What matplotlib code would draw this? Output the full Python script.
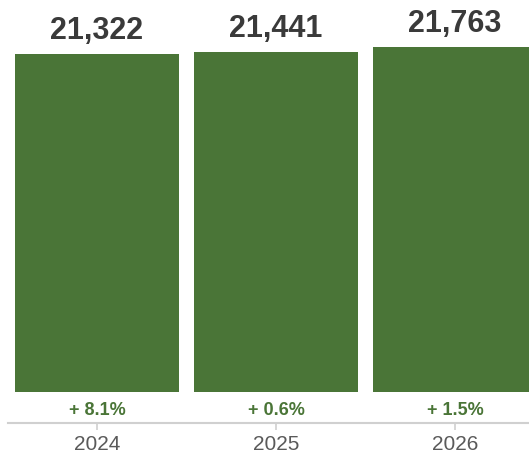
import matplotlib.pyplot as plt

plt.rc('font', family=['Liberation Sans', 'DejaVu Sans'])

years = ['2024', '2025', '2026']
totals = [21322, 21441, 21763]
growth = ['+ 8.1%', '+ 0.6%', '+ 1.5%']

BAR_GREEN = '#4a7537'
LABEL_GREY = '#3a3a3a'
AXIS_GREY = '#d0d0d0'

DPI = 100
PT = 72 / DPI  # points per pixel

fig = plt.figure(figsize=(5.29, 4.58), dpi=DPI)
# axes bottom sits on the grey baseline, top at figure edge
ax = fig.add_axes([8 / 529, (458 - 422.7) / 458, 1 - 8 / 529, 422.7 / 458])

x = range(len(years))
ax.bar(x, totals, width=0.916, color=BAR_GREEN, edgecolor='none')

ax.set_xlim(-0.497, 2.413)
ax.set_ylim(-1956, 24710)

for i, (v, g) in enumerate(zip(totals, growth)):
    ax.annotate(f'{v:,}', xy=(i, v), xytext=(0, 14.5 * PT), textcoords='offset points',
                ha='center', va='baseline', fontsize=22, fontweight='bold',
                color=LABEL_GREY)
    ax.annotate(g, xy=(i, 0), xytext=(0, -18.5 * PT), textcoords='offset points',
                ha='center', va='center', fontsize=13, fontweight='bold',
                color=BAR_GREEN)

for side in ['top', 'right', 'left']:
    ax.spines[side].set_visible(False)
ax.spines['bottom'].set_color(AXIS_GREY)
ax.spines['bottom'].set_linewidth(1.5)

ax.set_xticks(list(x))
ax.set_xticklabels(years)
ax.tick_params(axis='x', length=5, width=1.2, color=AXIS_GREY, labelsize=15,
               labelcolor='#5a5a5a', pad=4)
ax.set_yticks([])

fig.savefig('out.png', dpi=DPI)
